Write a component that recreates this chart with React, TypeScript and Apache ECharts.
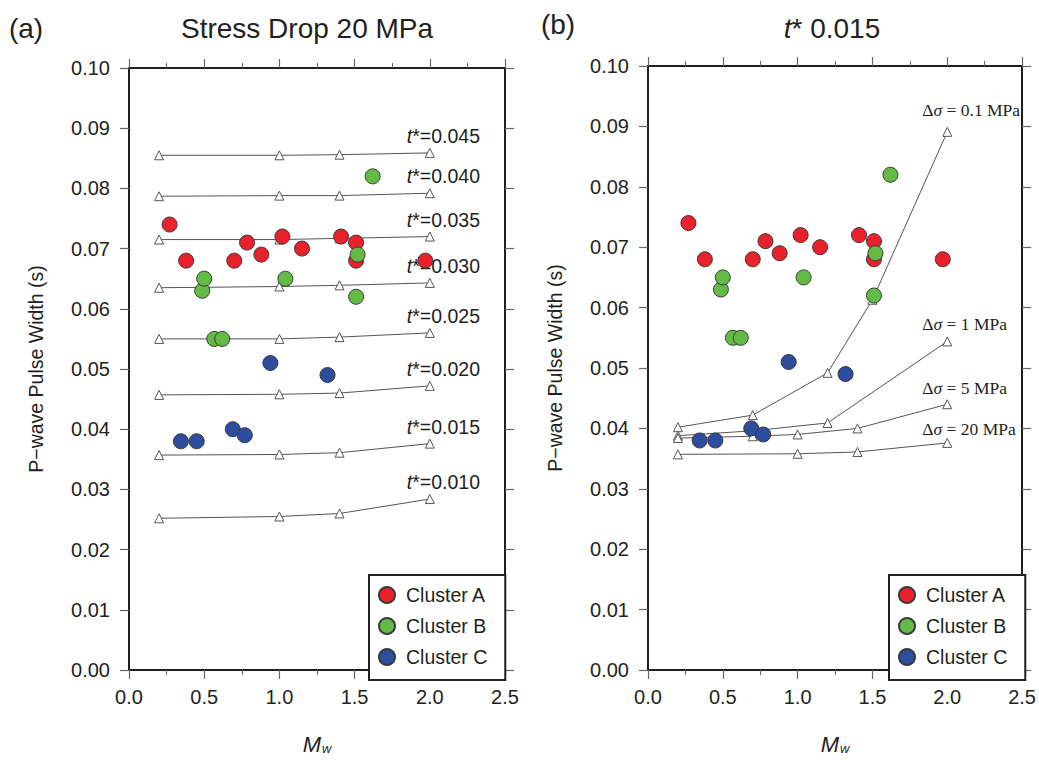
import { useEffect, useRef } from 'react';
import * as echarts from 'echarts';

// measured values (Mw, pulse width in s)
const CLUSTER_A: [number, number][] = [
  [0.27, 0.074], [0.38, 0.068], [0.7, 0.068], [0.785, 0.071], [0.88, 0.069], [1.02, 0.072],
  [1.15, 0.07], [1.41, 0.072], [1.51, 0.071], [1.51, 0.068], [1.97, 0.068],
];
const CLUSTER_B: [number, number][] = [
  [0.487, 0.063], [0.5, 0.065], [0.567, 0.055], [0.62, 0.055], [1.04, 0.065],
  [1.51, 0.062], [1.52, 0.069], [1.62, 0.082],
];
const CLUSTER_C: [number, number][] = [
  [0.345, 0.038], [0.45, 0.038], [0.69, 0.04], [0.77, 0.039], [0.94, 0.051], [1.32, 0.049],
];
const CLUSTERS = ['Cluster A', 'Cluster B', 'Cluster C'];

// (a) model curves, stress drop 20 MPa, one per t*
const MODEL_MW = [0.2, 1.0, 1.4, 2.0];
const T_STAR = ['0.045', '0.040', '0.035', '0.030', '0.025', '0.020', '0.015', '0.010'];
const PW_T045 = [0.0855, 0.0855, 0.0856, 0.0859];
const PW_T040 = [0.0787, 0.0788, 0.0788, 0.0792];
const PW_T035 = [0.0715, 0.0715, 0.0717, 0.072];
const PW_T030 = [0.0635, 0.0637, 0.0639, 0.0643];
const PW_T025 = [0.055, 0.055, 0.0553, 0.056];
const PW_T020 = [0.0457, 0.0458, 0.046, 0.0472];
const PW_T015 = [0.0357, 0.0358, 0.0361, 0.0376];
const PW_T010 = [0.0252, 0.0255, 0.026, 0.0284];
const T_CURVES = [PW_T045, PW_T040, PW_T035, PW_T030, PW_T025, PW_T020, PW_T015, PW_T010];

// (b) model curves, t* 0.015, one per stress drop
const SD_LABELS = ['0.1', '1', '5', '20'];
const SD01_MW = [0.2, 0.7, 1.2, 1.5, 2.0];
const SD01_PW = [0.0402, 0.0422, 0.0492, 0.0613, 0.0891];
const SD1_MW = [0.2, 0.7, 1.2, 2.0];
const SD1_PW = [0.0388, 0.0396, 0.0409, 0.0544];
const SD5_MW = [0.2, 0.7, 1.0, 1.4, 2.0];
const SD5_PW = [0.0384, 0.0387, 0.039, 0.04, 0.044];
const SD20_MW = [0.2, 1.0, 1.4, 2.0];
const SD20_PW = [0.0357, 0.0358, 0.0361, 0.0376];
const SD_CURVES = [
  [SD01_MW, SD01_PW],
  [SD1_MW, SD1_PW],
  [SD5_MW, SD5_PW],
  [SD20_MW, SD20_PW],
];

const FONT = '"Liberation Sans", Arial, sans-serif';
const SERIF = '"Liberation Serif", "Times New Roman", serif';
const INK = '#231f20';
const CLUSTER_COLORS = ['#e8212b', '#63bb46', '#2d4d9f'];
const SD_DISTANCE = [8, 3, 2, 0];

const lineData = (xs: number[], ys: number[], label: any) =>
  xs.map((x, i) => (i === xs.length - 1 ? { value: [x, ys[i]], label } : [x, ys[i]]));

const modelLine = (data: any[], axis: number) => ({
  type: 'line',
  xAxisIndex: axis * 2,
  yAxisIndex: axis * 2,
  data,
  symbol: 'triangle',
  symbolSize: 9,
  silent: true,
  z: 2,
  itemStyle: { color: '#fff', borderColor: '#555', borderWidth: 1 },
  lineStyle: { color: '#555', width: 1 },
  label: { show: false },
});

function buildOption() {
  const tick = { show: true, inside: false, length: 9, lineStyle: { color: '#666', width: 1.2 } };
  const line = { show: true, onZero: false, lineStyle: { color: INK, width: 2 } };
  const xAxes: any[] = [];
  const yAxes: any[] = [];
  [0, 1].forEach((g) => {
    xAxes.push({
      gridIndex: g, type: 'value', position: 'bottom', min: 0, max: 2.5, interval: 0.5,
      axisLine: line, axisTick: tick, splitLine: { show: false },
      minorTick: { show: true, splitNumber: 2, length: 5, lineStyle: { color: '#666', width: 1 } },
      axisLabel: { formatter: (v: number) => v.toFixed(1), margin: 17, fontSize: 20, fontFamily: FONT, color: INK },
      name: '{m|M}{w|w}', nameLocation: 'middle', nameGap: 54,
      nameTextStyle: {
        rich: {
          m: { fontSize: 22, fontStyle: 'italic', fontFamily: FONT, color: INK, verticalAlign: 'bottom' },
          w: { fontSize: 13, fontStyle: 'italic', fontFamily: FONT, color: INK, verticalAlign: 'bottom', padding: [18, 0, 0, 1] },
        },
      },
    });
    xAxes.push({
      gridIndex: g, type: 'value', position: 'top', min: 0, max: 2.5, interval: 0.5,
      axisLine: line, axisTick: tick, splitLine: { show: false }, axisLabel: { show: false },
      minorTick: { show: true, splitNumber: 2, length: 5, lineStyle: { color: '#666', width: 1 } },
    });
    yAxes.push({
      gridIndex: g, type: 'value', position: 'left', min: 0, max: 0.1, interval: 0.01,
      axisLine: line, axisTick: tick, splitLine: { show: false },
      axisLabel: { formatter: (v: number) => v.toFixed(2), margin: 19, fontSize: 20, fontFamily: FONT, color: INK },
      name: 'P\u2212wave Pulse Width (s)', nameLocation: 'middle', nameGap: 83,
      nameTextStyle: { fontSize: 19.5, fontFamily: FONT, color: INK },
    });
    yAxes.push({
      gridIndex: g, type: 'value', position: 'right', min: 0, max: 0.1, interval: 0.01,
      axisLine: line, axisTick: tick, splitLine: { show: false }, axisLabel: { show: false },
    });
  });

  const series: any[] = [];

  T_CURVES.forEach((ys, i) => {
    const label = {
      show: true, position: 'top', align: 'left', distance: 2, offset: [-23, 0],
      formatter: `{i|t}{n|*=${T_STAR[i]}}`,
      rich: {
        i: { fontSize: 19.5, fontStyle: 'italic', fontFamily: FONT, color: INK },
        n: { fontSize: 19.5, fontFamily: FONT, color: INK },
      },
    };
    series.push(modelLine(lineData(MODEL_MW, ys, label), 0));
  });

  SD_CURVES.forEach(([xs, ys], i) => {
    const label = {
      show: true, position: 'top', align: 'left', distance: SD_DISTANCE[i], offset: [-25, 0],
      formatter: `{n|\u0394}{s|\u03c3}{n| = ${SD_LABELS[i]} MPa}`,
      rich: {
        n: { fontSize: 17.5, fontFamily: SERIF, color: INK },
        s: { fontSize: 17.5, fontStyle: 'italic', fontFamily: SERIF, color: INK },
      },
    };
    series.push(modelLine(lineData(xs, ys, label), 1));
  });

  [CLUSTER_A, CLUSTER_B, CLUSTER_C].forEach((pts, i) => {
    [0, 1].forEach((g) => {
      series.push({
        type: 'scatter',
        name: CLUSTERS[i],
        xAxisIndex: g * 2,
        yAxisIndex: g * 2,
        data: pts,
        symbolSize: 15,
        z: 3,
        itemStyle: { color: CLUSTER_COLORS[i], borderColor: '#3a3a3a', borderWidth: 1, opacity: 1 },
      });
    });
  });

  const legend = (left: number) => ({
    orient: 'vertical', left, top: 575, data: CLUSTERS, icon: 'circle',
    itemWidth: 16, itemHeight: 16, itemGap: 9, selectedMode: false,
    borderColor: INK, borderWidth: 2, borderRadius: 0, backgroundColor: '#fff',
    padding: [9, 18, 12, 9],
    textStyle: { fontSize: 19.5, fontFamily: FONT, color: INK, lineHeight: 22, padding: [0, 0, 0, 6] },
  });

  const text = (x: number, y: number, t: string, rich?: any) => ({
    type: 'text', x, y, silent: true,
    style: { text: t, fontSize: 28, fontFamily: FONT, fill: INK, align: 'center', verticalAlign: 'middle', rich },
  });

  return {
    animation: false,
    backgroundColor: '#fff',
    grid: [
      { left: 129, top: 68, width: 376, height: 611 },
      { left: 648, top: 66, width: 377, height: 612 },
    ],
    xAxis: xAxes,
    yAxis: yAxes,
    legend: [legend(369), legend(889)],
    series,
    graphic: [
      text(26, 28, '(a)'),
      text(307, 28, 'Stress Drop 20 MPa'),
      text(558, 24, '(b)'),
      text(832, 28, '{i|t}{n|* 0.015}', {
        i: { fontSize: 28, fontStyle: 'italic', fontFamily: FONT, color: INK },
        n: { fontSize: 28, fontFamily: FONT, color: INK },
      }),
    ],
  };
}

export default function App() {
  const ref = useRef<HTMLDivElement>(null);

  useEffect(() => {
    document.body.style.margin = '0';
    if (!ref.current) return;
    const chart = echarts.init(ref.current, null, { renderer: 'svg' });
    chart.setOption(buildOption() as any);
    return () => chart.dispose();
  }, []);

  return <div ref={ref} style={{ width: 1039, height: 760 }} />;
}
